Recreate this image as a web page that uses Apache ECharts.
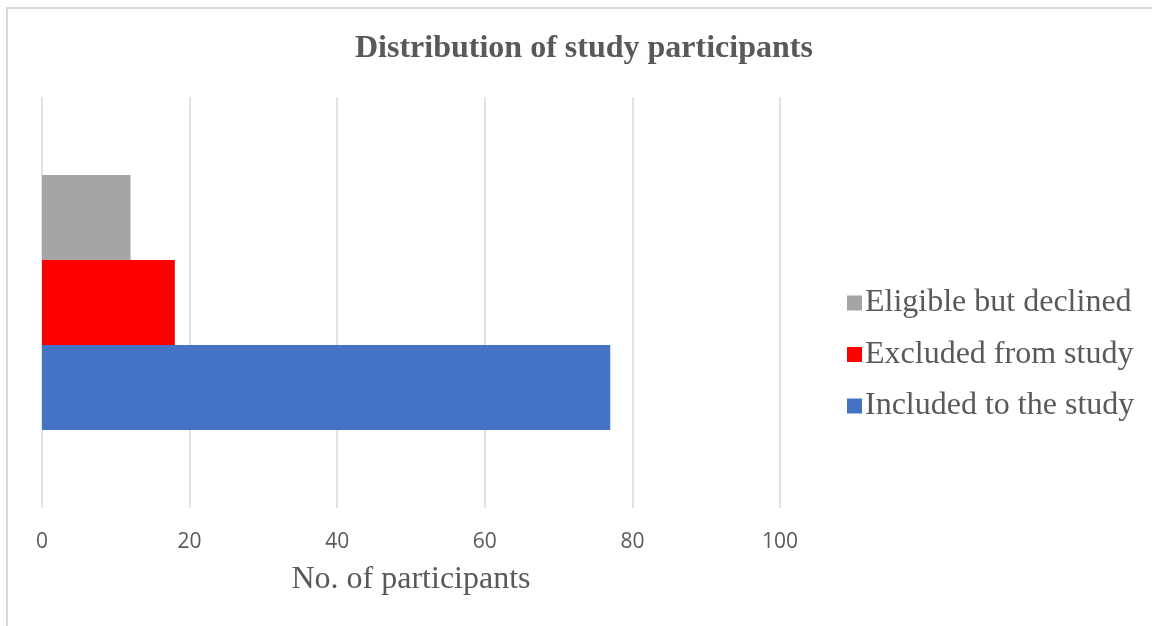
<!DOCTYPE html>
<html>
<head>
<meta charset="utf-8">
<script src="https://cdn.jsdelivr.net/npm/echarts@6/dist/echarts.min.js"></script>
<style>
  html, body { margin: 0; padding: 0; background: #fff; }
  #frame {
    position: absolute; left: 6px; top: 7px; width: 1200px; height: 700px;
    border-left: 2px solid #d9d9d9; border-top: 2px solid #d9d9d9;
  }
  #chart { position: absolute; left: 0; top: 0; width: 1152px; height: 626px; }
</style>
</head>
<body>
<div id="frame"></div>
<div id="chart"></div>
<script>
// ECharts puts series 0 at the top of a horizontal band
var categories = ['Participants'];
var seriesNames = ['Eligible but declined', 'Excluded from study', 'Included to the study'];
var seriesColors = ['#a5a5a5', '#ff0000', '#4472c4'];
var declined = [12];
var excluded = [18];
var included = [77];

var myChart = echarts.init(document.getElementById('chart'));
var seriesData = [declined, excluded, included];

var option = {
  animation: false,
  title: {
    text: 'Distribution of study participants',
    left: 350,
    top: 28,
    textStyle: {
      fontFamily: 'Liberation Serif',
      fontWeight: 'bold',
      fontSize: 32,
      color: '#595959'
    }
  },
  legend: {
    orient: 'vertical',
    left: 842,
    top: 280,
    itemWidth: 15,
    itemHeight: 15,
    itemGap: 15.5,
    icon: 'rect',
    data: seriesNames,
    textStyle: {
      fontFamily: 'Liberation Serif',
      fontSize: 32,
      lineHeight: 36,
      color: '#595959',
      padding: [0, 0, 0, -2]
    }
  },
  grid: {
    left: 42,
    right: 372,
    top: 97,
    bottom: 118
  },
  xAxis: {
    type: 'value',
    min: 0,
    max: 100,
    interval: 20,
    name: 'No. of participants',
    nameLocation: 'middle',
    nameGap: 56,
    nameTextStyle: {
      fontFamily: 'Liberation Serif',
      fontSize: 32,
      color: '#595959'
    },
    axisLine: { show: false },
    axisTick: { show: false },
    axisLabel: {
      margin: 24,
      fontFamily: 'Open Sans',
      fontSize: 21,
      color: '#595959'
    },
    splitLine: {
      lineStyle: { color: '#d9d9d9', width: 1.5 }
    }
  },
  yAxis: {
    type: 'category',
    data: categories,
    show: false
  },
  series: seriesNames.map(function (name, i) {
    return {
      name: name,
      type: 'bar',
      barGap: '0%',
      barCategoryGap: '38%',
      itemStyle: { color: seriesColors[i] },
      data: seriesData[i]
    };
  })
};
myChart.setOption(option, true);
</script>
</body>
</html>
